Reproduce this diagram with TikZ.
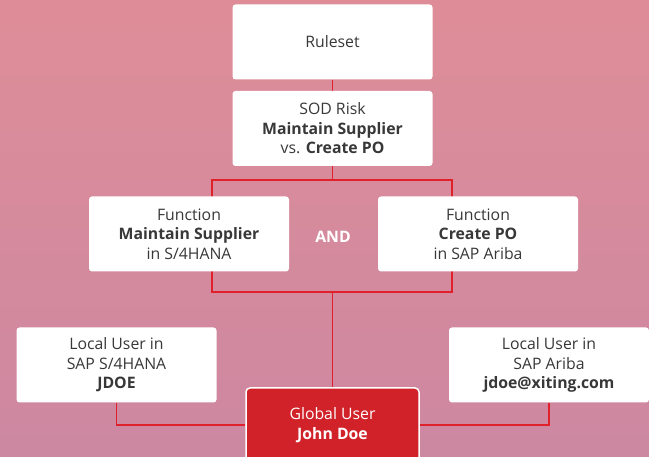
\documentclass[tikz,border=0pt]{standalone}
\usepackage{fontspec}
\setmainfont{Open Sans}
\usetikzlibrary{backgrounds}
\definecolor{bgtop}{HTML}{E08E97}
\definecolor{bgbot}{HTML}{CB87A2}
\definecolor{linered}{HTML}{E0202A}
\definecolor{boxred}{HTML}{D12129}
\definecolor{txt}{HTML}{383838}
\tikzset{
  box/.style={draw=none, fill=white, rounded corners=3pt, minimum width=200pt, minimum height=75pt,
    align=center, text=txt, font=\fontsize{15.8pt}{19.6pt}\selectfont, inner sep=0pt},
  gbox/.style={box, fill=boxred, draw=white, line width=1.5pt, text=white, rounded corners=4pt,
    minimum width=173pt, minimum height=74pt},
  conn/.style={draw=linered, line width=1.5pt},
}
\begin{document}
\begin{tikzpicture}[x=1pt,y=-1pt]
\useasboundingbox (0,0) rectangle (649,457);
\node[box] (rules) at (332.5,42) {Ruleset};
\node[box] (sod) at (332.5,128.5) {SOD Risk\\\textbf{Maintain Supplier}\\vs. \textbf{Create PO}};
\node[box] (fl) at (189,234) {Function\\\textbf{Maintain Supplier}\\in S/4HANA};
\node[box] (fr) at (478,234) {Function\\\textbf{Create PO}\\in SAP Ariba};
\node[font=\fontsize{15.8pt}{19.6pt}\selectfont\bfseries, text=white] (and) at (333,237) {AND};
\node[box] (ll) at (116.5,365) {Local User in\\SAP S/4HANA\\\textbf{JDOE}};
\node[box] (lr) at (549,365) {Local User in\\SAP Ariba\\\textbf{jdoe@xiting.com}};
\node[gbox] (gu) at (332.5,425) {Global User\\\textbf{John Doe}};
\coordinate (tl) at (212,180);
\coordinate (tr) at (452,180);
\coordinate (bl) at (212,292);
\coordinate (br) at (452,292);
\coordinate (bm) at (332.5,292);
\begin{scope}[on background layer]
  \clip (0,0) rectangle (649,457);
  \shade[shading=axis, shading angle=20, top color=bgtop, bottom color=bgbot] (-80,-40) rectangle (729,497);
  \draw[conn] (rules.south) -- (sod.south);
  \draw[conn] (sod.south) -- (sod.south |- tl);
  \draw[conn] (tl) -- (tr) -- (br) -- (bl) -- cycle;
  \draw[conn] (bm) -- (gu.north);
  \draw[conn] (ll.south) |- (gu.west);
  \draw[conn] (lr.south) |- (gu.east);
\end{scope}
\end{tikzpicture}
\end{document}
